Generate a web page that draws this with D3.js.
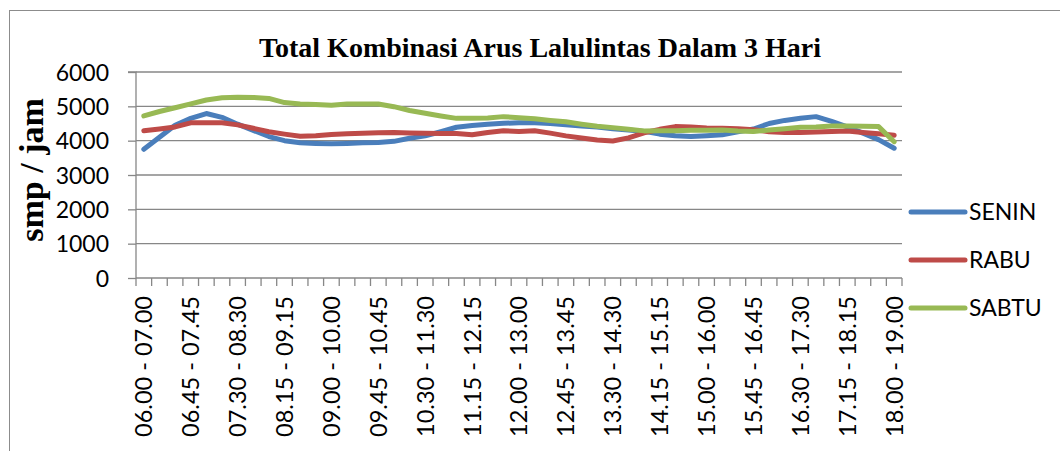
<!DOCTYPE html>
<html>
<head>
<meta charset="utf-8">
<script src="https://cdn.jsdelivr.net/npm/d3@7"></script>
<style>
  body { margin: 0; background: #fff; }
  svg { display: block; }
  .tick-label { font-family: Lato, "Open Sans", sans-serif; font-size: 23px; fill: #000; }
</style>
</head>
<body>
<div id="chart"></div>
<script>
// data

    var categories = [
        "06.00 - 07.00", "06.15 - 07.15", "06.30 - 07.30", "06.45 - 07.45",
        "07.00 - 08.00", "07.15 - 08.15", "07.30 - 08.30", "07.45 - 08.45",
        "08.00 - 09.00", "08.15 - 09.15", "08.30 - 09.30", "08.45 - 09.45",
        "09.00 - 10.00", "09.15 - 10.15", "09.30 - 10.30", "09.45 - 10.45",
        "10.00 - 11.00", "10.15 - 11.15", "10.30 - 11.30", "10.45 - 11.45",
        "11.00 - 12.00", "11.15 - 12.15", "11.30 - 12.30", "11.45 - 12.45",
        "12.00 - 13.00", "12.15 - 13.15", "12.30 - 13.30", "12.45 - 13.45",
        "13.00 - 14.00", "13.15 - 14.15", "13.30 - 14.30", "13.45 - 14.45",
        "14.00 - 15.00", "14.15 - 15.15", "14.30 - 15.30", "14.45 - 15.45",
        "15.00 - 16.00", "15.15 - 16.15", "15.30 - 16.30", "15.45 - 16.45",
        "16.00 - 17.00", "16.15 - 17.15", "16.30 - 17.30", "16.45 - 17.45",
        "17.00 - 18.00", "17.15 - 18.15", "17.30 - 18.30", "17.45 - 18.45",
        "18.00 - 19.00"
    ];

    var senin = [
        3750, 4100, 4450, 4650, 4790, 4680, 4480, 4300, 4120, 4000,
        3940, 3920, 3910, 3920, 3940, 3950, 3980, 4070, 4140, 4260,
        4390, 4440, 4480, 4505, 4520, 4520, 4500, 4460, 4430, 4400,
        4350, 4310, 4270, 4190, 4140, 4120, 4140, 4170, 4260, 4340,
        4500, 4590, 4650, 4700, 4560, 4400, 4220, 4030, 3780
    ];

    var rabu = [
        4290, 4340, 4400, 4520, 4525, 4520, 4460, 4360, 4260, 4190,
        4130, 4140, 4180, 4200, 4215, 4230, 4240, 4225, 4215, 4210,
        4210, 4170, 4240, 4290, 4270, 4290, 4220, 4140, 4080, 4020,
        3990, 4080, 4230, 4330, 4410, 4400, 4370, 4360, 4350, 4320,
        4260, 4240, 4240, 4250, 4270, 4280, 4240, 4200, 4160
    ];

    var sabtu = [
        4720, 4850, 4960, 5070, 5185, 5250, 5265, 5260, 5230, 5110,
        5070, 5050, 5030, 5068, 5065, 5068, 4990, 4880, 4800, 4720,
        4650, 4650, 4660, 4700, 4670, 4640, 4590, 4550, 4480, 4420,
        4380, 4330, 4285, 4290, 4292, 4300, 4300, 4310, 4280, 4270,
        4310, 4350, 4390, 4400, 4430, 4430, 4420, 4410, 3970
    ];

    var seriesNames  = ["SENIN", "RABU", "SABTU"];
    var seriesColors = ["#4a7ebb", "#be4b48", "#98b954"];
    var yTicks = [0, 1000, 2000, 3000, 4000, 5000, 6000];

// dimensions

    var svgWidth = 1060, svgHeight = 451;
    var plot = { left: 136, right: 902, top: 72, bottom: 278 };
    var gridColor = "#878787";

    var svg = d3.select("#chart")
        .append("svg")
            .attr("width", svgWidth)
            .attr("height", svgHeight);

    // outer frame (only top / left fall inside the picture)
    svg.append("rect")
        .attr("x", 9.5).attr("y", 10.5)
        .attr("width", 1100).attr("height", 500)
        .attr("fill", "none")
        .attr("stroke", "#8c8c8c")
        .attr("stroke-width", 1);

// scales

    var x = d3.scaleBand()
        .domain(categories)
        .range([plot.left, plot.right])
        .paddingInner(0).paddingOuter(0);

    var y = d3.scaleLinear()
        .domain([0, 6000])
        .range([plot.bottom, plot.top]);

// gridlines + Y axis

    var yAxis = d3.axisLeft(y)
        .tickValues(yTicks)
        .tickSize(8)
        .tickPadding(19)
        .tickFormat(d3.format("d"));

    svg.append("g")
        .attr("class", "grid")
        .selectAll("line")
        .data(yTicks.filter(function(d) { return d > 0; }))
        .enter().append("line")
            .attr("x1", plot.left).attr("x2", plot.right)
            .attr("y1", function(d) { return y(d); })
            .attr("y2", function(d) { return y(d); })
            .attr("stroke", gridColor)
            .attr("stroke-width", 1.3);

    var gY = svg.append("g")
        .attr("transform", "translate(" + plot.left + ",0)")
        .call(yAxis);
    gY.select(".domain").attr("stroke", gridColor).attr("stroke-width", 1.3)
        .attr("d", "M-8," + plot.top + "H0V" + plot.bottom);
    gY.selectAll(".tick line").attr("stroke", gridColor).attr("stroke-width", 1.3);
    gY.selectAll(".tick text")
        .attr("class", "tick-label")
        .attr("dy", "0.36em");

// X axis

    var xAxis = d3.axisBottom(x)
        .tickValues(categories.filter(function(d, i) { return i % 3 === 0; }))
        .tickSize(0)
        .tickPadding(0);

    var gX = svg.append("g")
        .attr("transform", "translate(0," + plot.bottom + ")")
        .call(xAxis);
    gX.select(".domain").attr("stroke", gridColor).attr("stroke-width", 1.3)
        .attr("d", "M" + plot.left + ",0H" + plot.right);
    gX.selectAll(".tick text")
        .attr("class", "tick-label")
        .style("font-size", "23.5px")
        .attr("transform", "rotate(-90)")
        .attr("text-anchor", "end")
        .attr("x", -18)
        .attr("y", 0)
        .attr("dy", "0.36em");

    // tick marks sit between categories
    var boundaries = categories.map(function(d) { return x(d); }).concat([plot.right]);
    gX.selectAll(".cat-tick")
        .data(boundaries)
        .enter().append("line")
            .attr("class", "cat-tick")
            .attr("x1", function(d) { return d; })
            .attr("x2", function(d) { return d; })
            .attr("y1", 0).attr("y2", 8)
            .attr("stroke", gridColor)
            .attr("stroke-width", 1.3);

// lines

    var line = d3.line()
        .x(function(d, i) { return x(categories[i]) + x.bandwidth() / 2; })
        .y(function(d) { return y(d); });

    [senin, rabu, sabtu].forEach(function(values, k) {
        svg.append("path")
            .datum(values)
            .attr("d", line)
            .attr("fill", "none")
            .attr("stroke", seriesColors[k])
            .attr("stroke-width", 5)
            .attr("stroke-linejoin", "round")
            .attr("stroke-linecap", "round");
    });

// titles

    svg.append("text")
        .attr("x", 540).attr("y", 57)
        .attr("text-anchor", "middle")
        .style("font-family", "'Liberation Serif', 'Times New Roman', serif")
        .style("font-weight", "bold")
        .style("font-size", "28px")
        .text("Total Kombinasi Arus Lalulintas Dalam 3 Hari");

    svg.append("text")
        .attr("transform", "translate(43,170) rotate(-90)")
        .attr("text-anchor", "middle")
        .style("font-family", "'Liberation Serif', 'Times New Roman', serif")
        .style("font-weight", "bold")
        .style("font-size", "34px")
        .text("smp / jam");

// legend

    var legend = svg.append("g")
        .selectAll("g")
        .data(seriesNames)
        .enter().append("g")
            .attr("transform", function(d, i) { return "translate(911," + (212 + i * 48) + ")"; });

    legend.append("line")
        .attr("x1", 0).attr("x2", 54)
        .attr("stroke", function(d, i) { return seriesColors[i]; })
        .attr("stroke-width", 5)
        .attr("stroke-linecap", "round");

    legend.append("text")
        .attr("class", "tick-label")
        .attr("x", 58)
        .attr("dy", "0.36em")
        .style("font-size", "23px")
        .text(function(d) { return d; });
</script>
</body>
</html>
